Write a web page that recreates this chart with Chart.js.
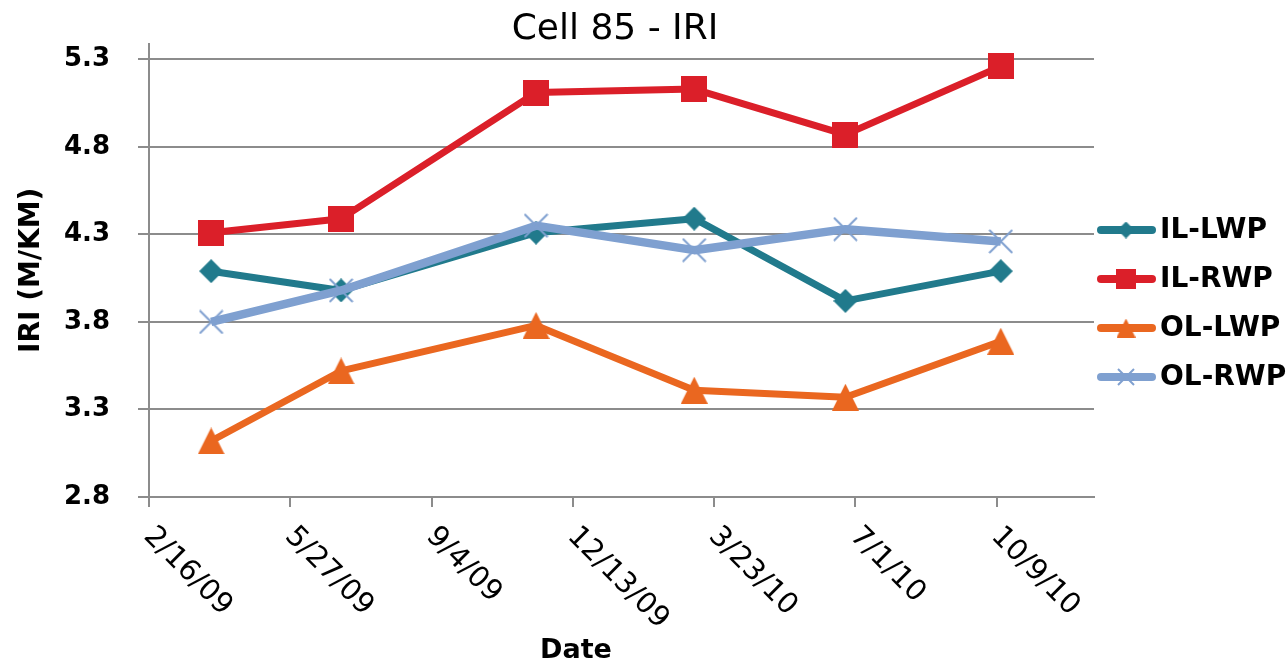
<!DOCTYPE html>
<html>
<head>
<meta charset="utf-8">
<title>Cell 85 - IRI</title>
<script src="https://cdn.jsdelivr.net/npm/chart.js@4.4.1/dist/chart.umd.min.js"></script>
<style>
    body { margin: 0; background: #fff; }
    #wrap { width: 1286px; height: 664px; }
</style>
</head>
<body>
<div id="wrap"><canvas id="grafico" width="1286" height="664"></canvas></div>
<script>
// valores
const titulo = 'Cell 85 - IRI';
const tituloX = 'Date';
const tituloY = 'IRI (M/KM)';

const inicio = '2009-02-16';
const fim = '2010-12-17';
const datas = ['2009-04-01', '2009-07-02', '2009-11-17', '2010-03-09', '2010-06-24', '2010-10-12'];

const nomes = ['IL-LWP', 'IL-RWP', 'OL-LWP', 'OL-RWP'];
const ilLwp = [4.09, 3.98, 4.31, 4.39, 3.92, 4.09];
const ilRwp = [4.31, 4.39, 5.11, 5.13, 4.87, 5.26];
const olLwp = [3.12, 3.52, 3.78, 3.41, 3.37, 3.69];
const olRwp = [3.80, 3.98, 4.35, 4.21, 4.33, 4.26];

const xTicks = ['2/16/09', '5/27/09', '9/4/09', '12/13/09', '3/23/10', '7/1/10', '10/9/10'];
const yTicks = [2.8, 3.3, 3.8, 4.3, 4.8, 5.3];
const yMin = 2.8;
const yMax = 5.39;

const valores = [ilLwp, ilRwp, olLwp, olRwp];
const cores = ['#217a8c', '#db1f29', '#ea6720', '#7fa0d0'];
const tipos = ['diamond', 'square', 'triangle', 'cross'];
const espessuras = [7, 7, 7, 8.5];
const tamanhos = [24, 26, 27, 25];
const tamanhosLegenda = [17, 20, 19, 18];

const fonte = '"DejaVu Sans", Verdana, sans-serif';
const cinza = '#8c8c8c';

const t0 = Date.parse(inicio);
function dias(iso) {
    return (Date.parse(iso) - t0) / 864e5;
}
function diasMDY(s) {
    const [m, d, a] = s.split('/').map(Number);
    return (Date.UTC(2000 + a, m - 1, d) - t0) / 864e5;
}

function marcador(tipo, cor, tam) {
    const c = document.createElement('canvas');
    c.width = tam; c.height = tam;
    const g = c.getContext('2d');
    const m = tam / 2;
    g.fillStyle = cor;
    g.strokeStyle = cor;
    g.beginPath();
    if (tipo === 'diamond') {
        g.moveTo(m, 0); g.lineTo(tam, m); g.lineTo(m, tam); g.lineTo(0, m);
        g.closePath(); g.fill();
    } else if (tipo === 'square') {
        g.fillRect(0, 0, tam, tam);
    } else if (tipo === 'triangle') {
        g.moveTo(m, 0); g.lineTo(tam, tam); g.lineTo(0, tam);
        g.closePath(); g.fill();
    } else {
        g.lineWidth = 2;
        g.moveTo(1, 1); g.lineTo(tam - 1, tam - 1);
        g.moveTo(tam - 1, 1); g.lineTo(1, tam - 1);
        g.stroke();
    }
    return c;
}

const textos = {
    id: 'textos',
    afterDraw(chart) {
        const ctx = chart.ctx;
        const xs = chart.scales.x;
        ctx.save();
        ctx.fillStyle = '#000';

        // titulo
        ctx.font = '36px ' + fonte;
        ctx.textAlign = 'center';
        ctx.textBaseline = 'alphabetic';
        ctx.fillText(titulo, 615, 39);

        // rotulos do eixo x, inclinados
        ctx.font = '29px ' + fonte;
        ctx.textAlign = 'left';
        ctx.textBaseline = 'middle';
        xTicks.forEach(t => {
            const px = xs.getPixelForValue(diasMDY(t));
            ctx.save();
            ctx.translate(px - 1, xs.top + 35);
            ctx.rotate(Math.PI / 4);
            ctx.fillText(t, 0, 0);
            ctx.restore();
        });

        // titulos dos eixos
        ctx.font = 'bold 27px ' + fonte;
        ctx.textAlign = 'center';
        ctx.textBaseline = 'alphabetic';
        ctx.fillText(tituloX, 576, 658);

        ctx.save();
        ctx.translate(39, (chart.chartArea.top + chart.chartArea.bottom) / 2);
        ctx.rotate(-Math.PI / 2);
        ctx.font = 'bold 28px ' + fonte;
        ctx.fillText(tituloY, 0, 0);
        ctx.restore();

        // legenda
        ctx.font = 'bold 28px ' + fonte;
        ctx.textAlign = 'left';
        ctx.textBaseline = 'middle';
        nomes.forEach((nome, i) => {
            const y = 230 + i * 49;
            ctx.strokeStyle = cores[i];
            ctx.lineWidth = 8;
            ctx.lineCap = 'round';
            ctx.beginPath();
            ctx.moveTo(1101, y);
            ctx.lineTo(1152, y);
            ctx.stroke();
            const mk = marcador(tipos[i], cores[i], tamanhosLegenda[i]);
            ctx.drawImage(mk, 1126 - mk.width / 2, y - mk.height / 2);
            ctx.fillText(nome, 1160, y + 1);
        });

        ctx.restore();
    }
};

new Chart(document.getElementById('grafico'), {
    type: 'line',
    data: {
        datasets: nomes.map((nome, i) => ({
            label: nome,
            data: datas.map((d, j) => ({ x: dias(d), y: valores[i][j] })),
            borderColor: cores[i],
            backgroundColor: cores[i],
            borderWidth: espessuras[i],
            borderJoinStyle: 'round',
            pointStyle: marcador(tipos[i], cores[i], tamanhos[i]),
            pointRadius: 10,
            tension: 0,
            order: 4 - i
        }))
    },
    options: {
        responsive: false,
        animation: false,
        devicePixelRatio: 1,
        layout: { padding: { left: 0, right: 192, top: 43, bottom: 0 } },
        plugins: {
            legend: { display: false },
            tooltip: { enabled: false },
            title: { display: false }
        },
        scales: {
            x: {
                type: 'linear',
                min: 0,
                max: dias(fim),
                afterBuildTicks: axis => {
                    axis.ticks = xTicks.map(t => ({ value: diasMDY(t) }));
                },
                afterFit: axis => { axis.height = 167; },
                ticks: { display: false },
                grid: {
                    drawOnChartArea: false,
                    drawTicks: true,
                    tickLength: 10,
                    color: cinza,
                    lineWidth: 2
                },
                border: { color: cinza, width: 2 }
            },
            y: {
                min: yMin,
                max: yMax,
                afterBuildTicks: axis => {
                    axis.ticks = yTicks.map(v => ({ value: v }));
                },
                afterFit: axis => { axis.width = 149; },
                ticks: {
                    padding: 28,
                    color: '#000',
                    font: { family: fonte, size: 26, weight: 'bold' },
                    callback: v => Number(v).toFixed(1)
                },
                grid: {
                    color: cinza,
                    lineWidth: 2,
                    tickLength: 11
                },
                border: { color: cinza, width: 2 }
            }
        }
    },
    plugins: [textos]
});
</script>
</body>
</html>
